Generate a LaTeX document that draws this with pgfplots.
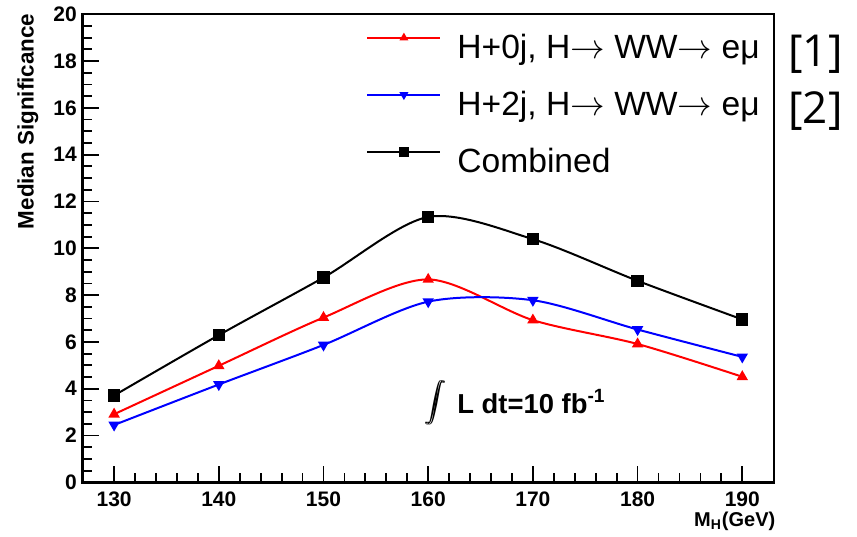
\documentclass[border=0pt]{standalone}
\usepackage{fontspec}
\setmainfont{Liberation Sans}
\newfontfamily\osans{Open Sans}
\usepackage{pgfplots}
\pgfplotsset{compat=1.18}
\begin{document}
\begin{tikzpicture}
\begin{axis}[
  width=345.5pt, height=234pt, scale only axis,
  clip mode=individual,
  xmin=127, xmax=193, ymin=0, ymax=20,
  xtick={130,140,...,190}, ytick={0,2,...,20},
  minor x tick num=4, minor y tick num=3,
  tick align=inside, xtick pos=bottom, ytick pos=left,
  major tick length=8pt, minor tick length=4.5pt,
  axis line style={line width=1.2pt},
  every tick/.style={black, line width=0.9pt},
  /pgf/number format/assume math mode=true,
  ticklabel style={font=\bfseries\fontsize{10.5}{12}\selectfont},
  yticklabel style={inner sep=2.8pt},
  xticklabel style={inner sep=4.5pt},
  legend style={at={(0.41,0.958)}, anchor=north west, draw=none, fill=none,
    inner sep=0pt, row sep=13pt, font=\fontsize{16.8}{18}\selectfont,
    nodes={inner sep=0pt, text height=12pt, text depth=3.5pt},
    /tikz/every odd column/.append style={column sep=8pt}},
  legend cell align=left,
  legend image code/.code={\draw[mark repeat=2,mark phase=2,#1,every mark/.append style={scale=0.7}] plot coordinates {(0pt,6pt) (18.25pt,6pt) (36.5pt,6pt)};},
]
\addplot[red, line width=1pt, smooth, tension=0.5, mark=triangle*, mark size=2.3pt, mark options={solid}] coordinates {
(130,2.91) (140,4.98) (150,7.04) (160,8.67) (170,6.93) (180,5.91) (190,4.51)};
\addlegendentry{H+0j, H$\rightarrow$ WW$\rightarrow$ eμ}
\addplot[blue, line width=1pt, smooth, tension=0.5, mark=triangle*, mark size=2.3pt, mark options={solid, rotate=180}] coordinates {
(130,2.45) (140,4.18) (150,5.87) (160,7.72) (170,7.78) (180,6.53) (190,5.36)};
\addlegendentry{H+2j, H$\rightarrow$ WW$\rightarrow$ eμ}
\addplot[black, line width=1pt, smooth, tension=0.5, mark=square*, mark size=2.6pt, mark options={solid}] coordinates {
(130,3.71) (140,6.29) (150,8.75) (160,11.34) (170,10.39) (180,8.61) (190,6.96)};
\addlegendentry{Combined}
\coordinate (sw) at (rel axis cs:0,0);
\node[anchor=base west, inner sep=0pt, font=\bfseries\fontsize{13.7}{15}\selectfont] at (axis cs:162.75,2.95) {L dt=10 fb\textsuperscript{-1}};
\node[inner sep=0pt] at (axis cs:160.7,3.39) {\fontsize{19}{21}\selectfont\rlap{$\displaystyle\int$}\kern0.7pt$\displaystyle\int$};
\node[rotate=90, anchor=base east, inner sep=0pt, font=\bfseries\fontsize{11.2}{13}\selectfont] at ([xshift=-24.5pt,yshift=0.5pt]rel axis cs:0,1) {Median Significance};
\node[anchor=base east, inner sep=0pt, font=\bfseries\fontsize{10}{12}\selectfont] at ([xshift=1pt,yshift=-22.2pt]rel axis cs:1,0) {M\textsubscript{H}(GeV)};
\node[anchor=west, inner sep=0pt, font=\osans\fontsize{22}{24}\selectfont] at (rel axis cs:1.0207,0.915) {[1]};
\node[anchor=west, inner sep=0pt, font=\osans\fontsize{22}{24}\selectfont] at (rel axis cs:1.0207,0.793) {[2]};
\end{axis}
\pgfresetboundingbox
\path[use as bounding box] ([shift={(-41.35pt,-26.85pt)}]sw) rectangle ++(428.5pt,268pt);
\end{tikzpicture}
\end{document}
